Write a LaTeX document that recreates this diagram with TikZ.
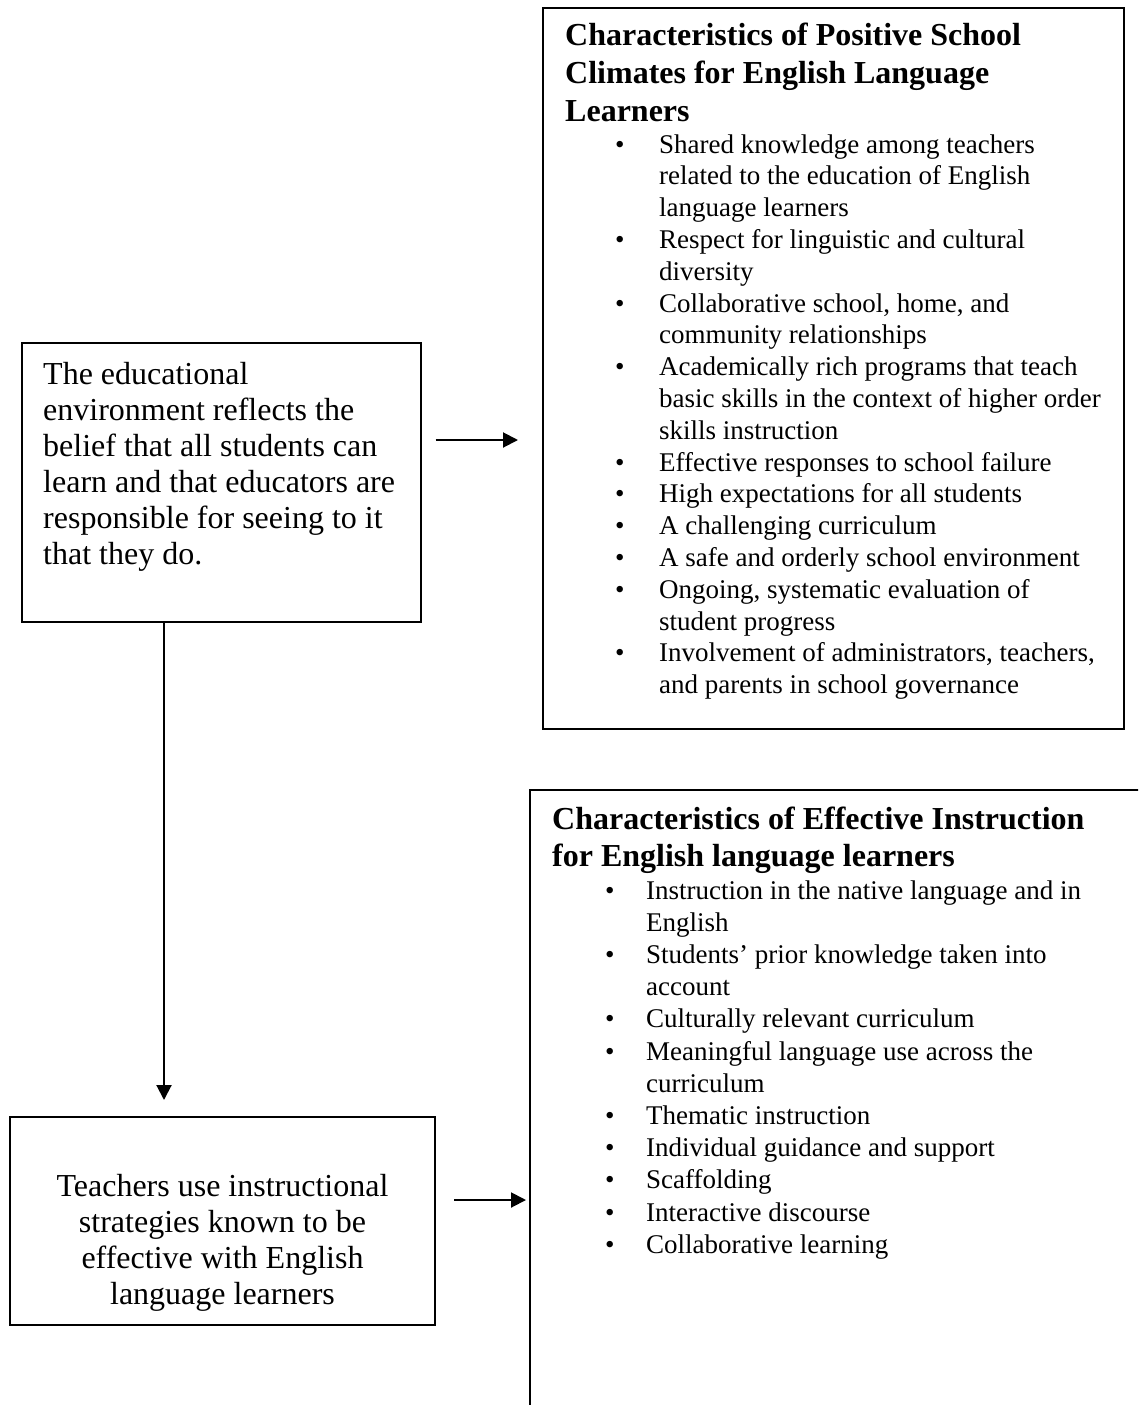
\documentclass[tikz,border=0pt]{standalone}
\usepackage{fontspec}
\setmainfont{Liberation Serif}
\usetikzlibrary{arrows.meta,calc}
\newcommand{\bul}{\textbullet}

\begin{document}
\begin{tikzpicture}[x=1pt,y=-1pt,
    box/.style={draw,line width=2pt,inner sep=0pt},
    txt/.style={inner sep=0pt,anchor=base west},
    arr/.style={line width=2pt,-{Triangle[length=15pt,width=15pt]}},
    big/.style={font=\fontsize{32}{36}\selectfont},
    small/.style={font=\fontsize{27}{31.8}\selectfont},
    head/.style={font=\fontsize{32}{37.5}\selectfont\bfseries}]
\useasboundingbox (0,0) rectangle (1138,1405);
\clip (0,0) rectangle (1138,1405);
\node[box,minimum width=399,minimum height=279] (env) at (221,482.5) {};
\node[box,minimum width=581,minimum height=721] (climate) at (833.5,368.5) {};
\node[box,minimum width=425,minimum height=208] (teach) at (222.5,1221) {};
\node[box,minimum width=640,minimum height=650] (instr) at (850,1115) {};

\node[txt,big] (envtxt) at (43,384) {\begin{tabular}[t]{@{}l@{}}
    The educational\\ environment reflects the\\ belief that all students can\\
    learn and that educators are\\ responsible for seeing to it\\ that they do.
  \end{tabular}};
\node[txt,big,anchor=base] (teachtxt) at (222.5,1196) {\begin{tabular}[t]{@{}c@{}}
    Teachers use instructional\\ strategies known to be\\ effective with English\\ language learners
  \end{tabular}};

\node[txt,head] (climhead) at (565,46) {\begin{tabular}[t]{@{}l@{}}
    Characteristics of Positive School\\ Climates for English Language\\ Learners
  \end{tabular}};
\node[txt,small] (climlist) at (615,153) {\begin{tabular}[t]{@{}p{44pt}@{}l@{}}
    \bul & Shared knowledge among teachers\\ & related to the education of English\\ & language learners\\
    \bul & Respect for linguistic and cultural\\ & diversity\\
    \bul & Collaborative school, home, and\\ & community relationships\\
    \bul & Academically rich programs that teach\\ & basic skills in the context of higher order\\ & skills instruction\\
    \bul & Effective responses to school failure\\
    \bul & High expectations for all students\\
    \bul & A challenging curriculum\\
    \bul & A safe and orderly school environment\\
    \bul & Ongoing, systematic evaluation of\\ & student progress\\
    \bul & Involvement of administrators, teachers,\\ & and parents in school governance
  \end{tabular}};

\node[txt,head] (instrhead) at (552,829) {\begin{tabular}[t]{@{}l@{}}
    Characteristics of Effective Instruction\\ for English language learners
  \end{tabular}};
\node[txt,small,font=\fontsize{27}{32.2}\selectfont] (instrlist) at (605,899) {\begin{tabular}[t]{@{}p{41pt}@{}l@{}}
    \bul & Instruction in the native language and in\\ & English\\
    \bul & Students’ prior knowledge taken into\\ & account\\
    \bul & Culturally relevant curriculum\\
    \bul & Meaningful language use across the\\ & curriculum\\
    \bul & Thematic instruction\\
    \bul & Individual guidance and support\\
    \bul & Scaffolding\\
    \bul & Interactive discourse\\
    \bul & Collaborative learning
  \end{tabular}};

\draw[arr] ($(env.east)+(14,-42.5)$) -- ($(climate.west)+(-24,71.5)$);
\draw[arr] ($(env.south)+(-57,0)$) -- ($(teach.north)+(-58.5,-16)$);
\draw[arr] ($(teach.east)+(18,-21)$) -- ($(instr.west)+(-3,85)$);
\end{tikzpicture}
\end{document}
